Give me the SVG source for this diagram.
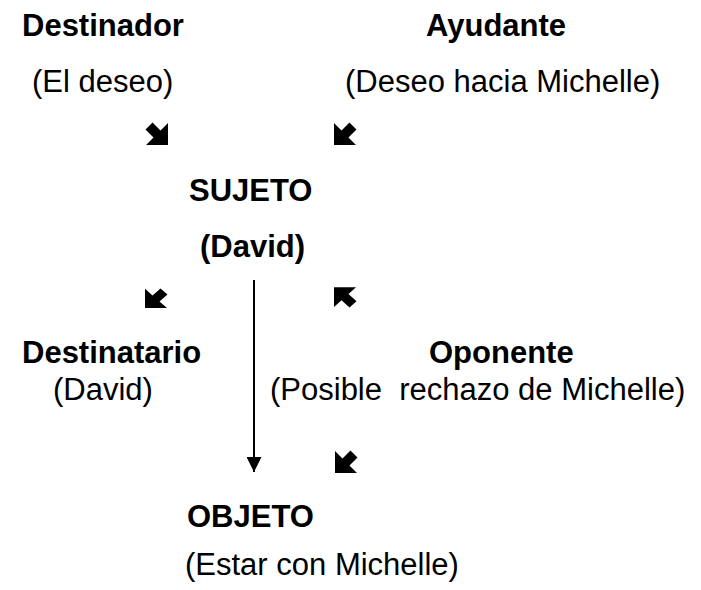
<svg xmlns="http://www.w3.org/2000/svg" width="701" height="590" viewBox="0 0 701 590">
<style>
.b{font-family:"Liberation Sans",Arial,sans-serif;font-weight:bold;font-size:31px;fill:#000}
.r{font-family:"Liberation Sans",Arial,sans-serif;font-size:31px;fill:#000;white-space:pre}
.arr{fill:#000}
.line{stroke:#000;stroke-width:2;fill:none}
</style>
<defs>
<path id="se" d="M23,23 L1,23 L8.5,15.5 L0.5,7.5 L7.5,0.5 L15.5,8.5 L23,1 Z"/>
<marker id="ah" markerWidth="15" markerHeight="15" refX="15" refY="7.5" orient="auto" markerUnits="userSpaceOnUse">
<path d="M0,0 L15,7.5 L0,15 Z" fill="#000"/>
</marker>
</defs>
<rect width="701" height="590" fill="#fff"/>
<g id="destinador"><text class="b" x="22" y="36">Destinador</text><text class="r" x="32" y="92">(El deseo)</text></g>
<g id="ayudante"><text class="b" x="426" y="36">Ayudante</text><text class="r" x="345" y="92">(Deseo hacia Michelle)</text></g>
<g id="sujeto"><text class="b" x="189" y="201">SUJETO</text><text class="b" x="200" y="257">(David)</text></g>
<g id="destinatario"><text class="b" x="22" y="363">Destinatario</text><text class="r" x="53" y="400">(David)</text></g>
<g id="oponente"><text class="b" x="429" y="363">Oponente</text><text class="r" x="270" y="400">(Posible  rechazo de Michelle)</text></g>
<g id="objeto"><text class="b" x="187" y="527">OBJETO</text><text class="r" x="185" y="575">(Estar con Michelle)</text></g>
<g id="connectors">
<use href="#se" class="arr" transform="translate(145,122)"/>
<use href="#se" class="arr" transform="translate(357,122) scale(-1,1)"/>
<use href="#se" class="arr" transform="translate(168,288) scale(-1,0.87)"/>
<use href="#se" class="arr" transform="translate(357,308) scale(-1,-0.9)"/>
<use href="#se" class="arr" transform="translate(358,450) scale(-1,1)"/>
<line class="line" x1="254" y1="280" x2="254" y2="472" marker-end="url(#ah)"/>
</g>
</svg>
